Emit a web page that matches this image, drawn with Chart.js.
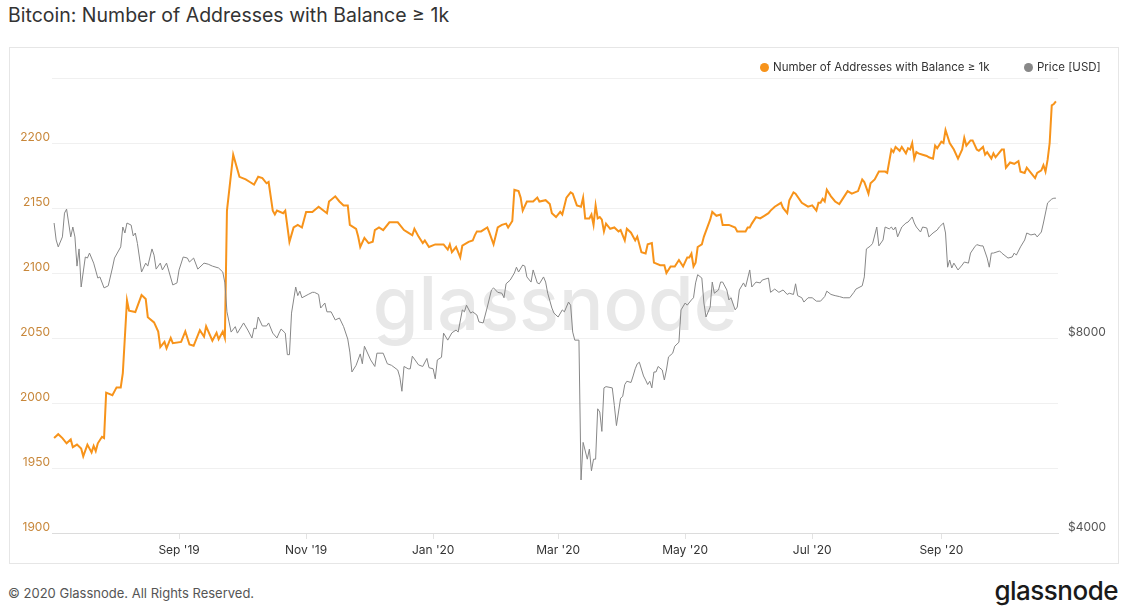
<!DOCTYPE html>
<html>
<head>
<meta charset="utf-8">
<script src="https://cdn.jsdelivr.net/npm/chart.js@4"></script>
<style>
  body { margin: 0; background: #fff; font-family: Inter, sans-serif; }
  #page { position: relative; width: 1135px; height: 612px; overflow: hidden; }
  #title { position: absolute; left: 8px; top: 3px; font-size: 19.5px; color: #333; }
  #box { position: absolute; left: 9px; top: 47px; width: 1108px; height: 515px; border: 1px solid #e6e6e6; }
  #wrap { position: absolute; left: 10px; top: 48px; width: 1108px; height: 515px; }
  .legend { position: absolute; top: 60px; font-size: 11.5px; color: #333; line-height: 14px; white-space: nowrap; }
  .dot { display: inline-block; width: 9px; height: 9px; border-radius: 50%; margin-right: 4px; vertical-align: -1px; }
  #copy { position: absolute; left: 8px; top: 585px; font-size: 13px; color: #555; }
  #logo { position: absolute; right: 17px; top: 575px; font-size: 26px; font-weight: 500; color: #1a1a1a; letter-spacing: -0.5px; }
</style>
</head>
<body>
<div id="page">
  <div id="title">Bitcoin: Number of Addresses with Balance ≥ 1k</div>
  <div id="box"></div>
  <div id="wrap"><canvas id="chart" width="1108" height="515"></canvas></div>
  <div class="legend" style="left:760px"><span class="dot" style="background:#f7931a"></span>Number of Addresses with Balance ≥ 1k</div>
  <div class="legend" style="left:1024px"><span class="dot" style="background:#888"></span>Price [USD]</div>
  <div id="copy">© 2020 Glassnode. All Rights Reserved.</div>
  <div id="logo">glassnode</div>
</div>
<script>
// days counted from 2019-07-01
const addrDays = [
  2,4,6,8,10,11,13,15,16,18, 20,21,22,23,25,26,27,30,32,34, 35,37,38,41,44,46,47,50,52,53,
  55,56,58,59,63,65,67,69,72,74, 75,78,80,81,83,84,85,88,91,94, 96,98,100,102,104,105,107,108,109,112,
  113,115,117,119,121,123,126,129,133,134, 137,139,141,143,144,147,148,149,151,153, 155,156,158,160,163,167,168,170,172,174,
  175,177,179,180,182,185,189,191,192,193, 195,197,198,201,203,204,205,207,210,211, 213,215,217,219,220,222,223,225,226,227,
  229,232,234,235,238,240,241,243,245,246, 248,250,251,253,255,256,257,259,260,261, 262,263,264,265,266,267,269,271,273,274,
  276,277,279,281,282,284,286,287,289,290, 293,295,296,298,300,302,304,306,307,308, 309,310,311,313,314,317,318,320,322,323,
  326,329,330,332,334,335,336,337,339,341, 343,345,346,348,351,352,354,355,357,358, 361,363,364,366,368,369,370,371,372,373,
  375,377,379,381,383,385,388,390,391,393, 394,396,398,401,402,404,405,406,408,409, 411,412,413,414,415,416,417,419,421,422,
  424,425,426,428,429,430,432,434,436,438, 439,440,442,443,445,446,448,449,450,452, 453,454,457,458,459,461,463,465,466,468,
  469,471,473,474,476,477,478,479,480,481, 482,483
];
const addrValues = [
  1973,1976,1973,1969,1972,1966,1968,1965,1959,1968, 1962,1967,1963,1969,1974,1973,2008,2006,2012,2012, 2023,2079,2071,2070,2083,2080,2066,2062,2055,2043,
  2047,2042,2050,2046,2047,2055,2045,2044,2056,2051, 2059,2048,2054,2049,2055,2050,2148,2191,2174,2172, 2170,2168,2174,2173,2169,2170,2148,2145,2148,2146,
  2148,2124,2135,2137,2135,2147,2147,2151,2146,2155, 2159,2155,2152,2152,2137,2134,2128,2120,2127,2123, 2124,2133,2135,2133,2139,2139,2137,2133,2131,2129,
  2134,2128,2123,2125,2120,2122,2122,2118,2122,2116, 2120,2112,2121,2124,2125,2129,2132,2132,2135,2131, 2122,2135,2137,2138,2135,2140,2164,2163,2158,2148,
  2155,2155,2158,2155,2156,2153,2146,2143,2147,2145, 2158,2162,2161,2152,2151,2158,2142,2142,2145,2137, 2152,2142,2143,2141,2132,2138,2134,2135,2132,2133,
  2125,2134,2131,2125,2128,2116,2115,2122,2123,2108, 2106,2106,2100,2105,2105,2110,2105,2112,2112,2115, 2105,2108,2120,2122,2128,2141,2147,2144,2145,2137,
  2137,2135,2132,2132,2132,2135,2135,2138,2143,2142, 2144,2146,2148,2151,2154,2150,2146,2156,2162,2161, 2154,2152,2151,2152,2148,2154,2154,2157,2155,2164,
  2159,2155,2153,2158,2163,2161,2163,2172,2170,2161, 2169,2172,2178,2178,2177,2195,2193,2197,2194,2197, 2192,2196,2195,2200,2188,2193,2192,2191,2190,2189,
  2188,2198,2196,2201,2200,2210,2200,2195,2188,2195, 2204,2198,2202,2202,2195,2194,2197,2191,2193,2188, 2192,2189,2195,2195,2181,2185,2184,2186,2178,2177,
  2181,2177,2173,2177,2179,2183,2178,2187,2200,2229, 2230,2232
];

const priceDays = [
  2,3,4,6,7,8,10,11,12,13, 14,15,17,18,19,21,23,24,26,28, 30,31,34,35,36,37,39,40,41,42,
  44,46,47,49,50,51,53,54,56,59, 61,62,64,66,67,69,71,74,76,78, 81,83,84,85,86,87,89,90,93,95,
  97,98,99,100,102,104,105,107,109,110, 111,113,114,115,116,118,119,120,121,124, 126,127,129,130,132,133,135,137,139,141,
  143,144,145,147,149,150,151,154,156,157, 160,162,164,167,168,169,170,172,173,174, 177,179,181,182,184,185,186,188,189,191,
  193,195,196,198,199,200,202,203,205,206, 208,210,212,213,215,217,218,219,221,223, 224,225,227,228,229,231,232,234,235,237,
  238,239,241,242,244,246,247,249,250,251, 252,254,255,256,258,259,260,261,262,263, 264,265,266,267,270,271,272,274,275,276,
  277,279,280,281,282,283,285,286,287,288, 289,290,291,292,294,295,296,297,299,300, 302,303,305,306,308,309,310,311,313,314,
  315,317,318,319,321,322,323,325,326,327, 329,330,331,333,334,336,337,339,341,342, 345,346,348,350,352,354,355,357,358,359,
  361,362,364,366,368,370,372,373,375,377, 379,381,384,386,387,390,391,392,394,395, 397,398,400,401,403,404,405,406,407,409,
  411,412,414,415,416,418,419,421,422,424, 426,427,429,430,431,432,433,434,436,438, 439,441,442,444,445,447,448,450,451,452,
  453,456,457,460,462,463,464,466,468,469, 471,473,474,476,477,479,481,482,483
];
const priceValues = [
  12040,11335,11060,11460,12470,12650,11460,11870,11460,10330, 10980,9590,10670,10630,10820,10440,9900,9940,9560,9630,
  10260,10630,11060,11870,11620,12040,11950,11500,11620,11200, 10115,10440,10330,10980,10740,10220,10440,10190,10440,9660,
  9730,10190,10670,10630,10480,10630,10220,10440,10400,10330, 10260,10115,9730,8780,8470,8170,8330,8140,8440,8230,
  8000,8290,8260,8620,8350,8350,8440,8140,8000,8140, 8260,8140,7540,7540,8740,9590,9300,9450,9230,9340,
  9410,9410,9340,8900,9060,8780,8780,8530,8590,8330, 7970,7610,7090,7260,7560,7300,7770,7400,7230,7580,
  7580,7300,7260,7140,6960,6620,7230,7170,7170,7500, 7270,7230,7440,7200,7170,6920,7400,7470,8140,7940,
  8150,8230,8170,8840,8780,8990,8740,8780,8680,8470, 8440,8930,9490,9560,9410,9380,9230,9700,9830,10080,
  10290,10115,10370,10330,9940,9760,10190,9730,9700,9940, 9760,9380,8900,8740,8620,8840,8780,9090,8990,8170,
  7940,7940,4830,5520,5200,5390,4990,5200,5200,6220, 6150,5740,6700,6730,6700,6290,5860,6460,6500,6780,
  6860,6830,6990,7170,7300,7340,6990,6890,6780,6860, 6700,7090,7090,7230,7140,6890,7140,7480,7580,7770,
  7880,8840,9060,8990,9160,9230,9730,10020,9900,9060, 8620,8930,9760,9380,9490,9760,9760,9490,9160,9230,
  8840,8930,9490,9730,9590,10190,9590,9760,9730,9830, 9900,9410,9520,9410,9490,9340,9380,9340,9700,9300,
  9230,9090,9230,9230,9120,9120,9270,9450,9340,9300, 9270,9230,9230,9410,9520,9630,9940,10980,11100,11200,
  11870,11100,11335,11870,11790,11870,11744,11870,11460,11870, 12040,12080,12300,12040,11870,11660,11870,11830,11460,11620,
  11744,11870,12040,11620,10290,10556,10260,10440,10190,10370, 10480,10440,10820,11060,11150,11100,11100,10630,10290,10820,
  10820,10900,10820,10630,10670,10820,10740,11060,11335,11620, 11540,11580,11460,11660,12040,12930,13110,13150,13150
];

const tickDays = [62, 123, 184, 244, 305, 366, 428];
const tickLabels = ["Sep '19", "Nov '19", "Jan '20", "Mar '20", "May '20", "Jul '20", "Sep '20"];
const priceTicks = [4000, 8000];

Chart.defaults.font.family = 'Inter';
Chart.defaults.font.size = 12;

const watermark = {
  id: 'watermark',
  beforeDatasetsDraw(chart) {
    const { ctx, chartArea: a } = chart;
    ctx.save();
    ctx.font = '500 74px Inter';
    ctx.fillStyle = '#e8e8e8';
    ctx.textAlign = 'center';
    ctx.textBaseline = 'alphabetic';
    ctx.fillText('glassnode', (a.left + a.right) / 2, (a.top + a.bottom) / 2 + 24);
    ctx.restore();
  }
};

const ctx = document.getElementById('chart').getContext('2d');
new Chart(ctx, {
  type: 'line',
  data: {
    datasets: [{
      label: 'Number of Addresses with Balance ≥ 1k',
      data: addrDays.map((d, i) => ({ x: d, y: addrValues[i] })),
      borderColor: '#f7931a',
      borderWidth: 2,
      pointRadius: 0,
      tension: 0,
      yAxisID: 'y',
      order: 1
    }, {
      label: 'Price [USD]',
      data: priceDays.map((d, i) => ({ x: d, y: priceValues[i] })),
      borderColor: '#878787',
      borderWidth: 1,
      pointRadius: 0,
      tension: 0,
      yAxisID: 'y1',
      order: 0
    }]
  },
  options: {
    responsive: false,
    animation: false,
    layout: { padding: { top: 30, left: 0, right: 0, bottom: 0 } },
    plugins: { legend: { display: false }, tooltip: { enabled: false } },
    scales: {
      x: {
        type: 'linear', min: 1, max: 484,
        afterBuildTicks: s => { s.ticks = tickDays.map(v => ({ value: v })); },
        afterFit: s => { s.height = 30; },
        ticks: {
          callback: v => tickLabels[tickDays.indexOf(v)],
          color: '#333', padding: 4, maxRotation: 0, autoSkip: false
        },
        grid: { drawOnChartArea: false, tickLength: 6, color: '#e3e3e3' },
        border: { color: '#dcdcdc' }
      },
      y: {
        position: 'left', min: 1900, max: 2250,
        afterFit: s => { s.width = 42; },
        ticks: {
          stepSize: 50,
          callback: v => (v === 2250 ? '' : String(v)),
          color: '#c8873a', padding: 2, labelOffset: -6
        },
        grid: { color: '#f0f0f0', drawTicks: false },
        border: { display: false }
      },
      y1: {
        type: 'logarithmic', position: 'right', min: 4000, max: 20160,
        afterBuildTicks: s => { s.ticks = priceTicks.map(v => ({ value: v })); },
        afterFit: s => { s.width = 60; },
        ticks: { callback: v => '$' + v, color: '#555', padding: 2, labelOffset: -6 },
        grid: { display: false },
        border: { display: false }
      }
    }
  },
  plugins: [watermark]
});
</script>
</body>
</html>
